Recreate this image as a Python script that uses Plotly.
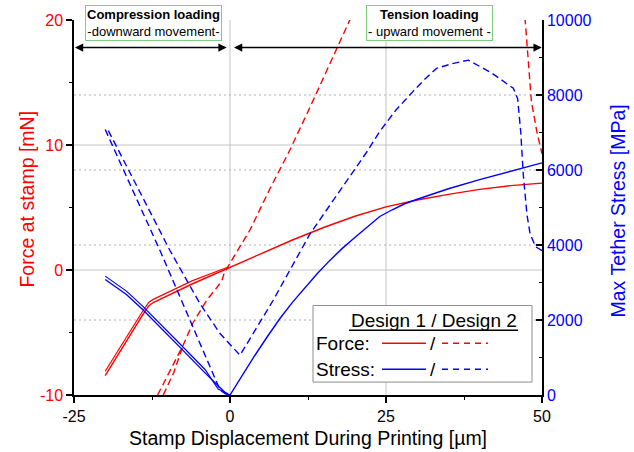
import plotly.graph_objects as go

# ---- Design 1: force at stamp [mN] (loading / unloading branches for x < 0)
d1_force_x = [-20, -17, -14, -13, -12.3, -6, -0.5, 0, 5, 10, 15, 20, 25, 30, 35, 40, 45, 50]
d1_force = [-8.45, -6.0, -3.6, -2.85, -2.6, -1.1, 0.1, 0.2, 1.25, 2.4, 3.4, 4.3, 5.05, 5.6, 6.05, 6.45, 6.75, 6.95]
d1_force_ret_x = [-20, -17, -14, -13, -12.3, -6, -0.5, 0]
d1_force_ret = [-8.1, -5.65, -3.3, -2.58, -2.35, -0.85, 0.2, 0.2]

# ---- Design 1: max tether stress [MPa]
d1_stress_x = [-20, -18, -16.6, -14, -12, -8, -4, -1.3, -0.5, 0, 2, 4, 6, 8, 10, 12, 14,
               16, 18, 20, 22, 24, 26, 28, 30, 35, 40, 45, 50]
d1_stress = [3080, 2850, 2680, 2280, 1950, 1270, 590, 130, 20, 0, 540, 1060, 1560, 2040, 2470,
             2870, 3240, 3590, 3910, 4200, 4480, 4760, 4940, 5100, 5220, 5500, 5745, 5970, 6190]
d1_stress_ret_x = [-20, -18, -16.6, -14, -12, -8, -4, -1.9, -0.3]
d1_stress_ret = [3170, 2940, 2770, 2370, 2040, 1360, 680, 160, 30]

# ---- Design 2: force at stamp [mN]
d2_force_x = [-11.6, -9.5, -7.5, -5.9, -3.7, -2.1, -1.3, -0.9, -0.3, 0, 3.2, 6.4, 9.6, 12.8,
              16, 19.2, 25, 32, 40, 45, 46.5, 47.3, 48.3, 49.2, 50]
d2_force = [-10, -8.0, -6.0, -4.2, -2.4, -1.4, -0.85, -0.2, 0.3, 0.45, 3.2, 6.5, 9.6, 13.0,
            16.5, 20, 25.5, 30, 31, 28, 24, 20, 13.5, 11, 9.3]
d2_force_ret_x = [-10.7, -9.0, -7.5]
d2_force_ret = [-10, -8.2, -6.0]

# ---- Design 2: max tether stress [MPa]
d2_stress_x = [-19.5, -14, -9.6, -4.8, -1.6, 1.6, 4, 6.9, 10, 12.8, 15, 17.6, 20, 22, 24,
               26.5, 29.3, 31.2, 33.1, 35.5, 38.2, 42, 45.4, 46.1, 46.6, 47.0, 47.6, 48.1, 49.0, 50]
d2_stress = [7050, 5270, 3846, 2432, 1640, 1060, 1720, 2520, 3450, 4290, 4820, 5440, 6030,
             6500, 7030, 7580, 8090, 8420, 8710, 8830, 8930, 8580, 8180, 7900, 7000, 5880,
             4800, 4290, 3950, 3850]
d2_stress_ret_x = [-20, -16, -11.2, -8, -4, -1.6, -0.8, -0.3]
d2_stress_ret = [7080, 5612, 3846, 2610, 1060, 133, 40, 20]

# ---- axes
x_range = [-25, 50]
force_range = [-10, 20]
stress_range = [0, 10000]
x_ticks = [-25, 0, 25, 50]
force_ticks = [-10, 0, 10, 20]
stress_ticks = [0, 2000, 4000, 6000, 8000, 10000]
x_grid = [0, 25]
force_grid = [0, 10]
stress_grid = [2000, 4000, 6000, 8000]
arrow_level = 17.8

RED = "#ff0000"
BLUE = "#0000ff"
FONT = "Arial, 'Liberation Sans', sans-serif"
DASH = "7px,4px"

fig = go.Figure()


def add_line(x, y, color, dash, width, axis):
    fig.add_trace(go.Scatter(x=x, y=y, mode="lines", yaxis=axis, showlegend=False,
                             hoverinfo="skip",
                             line=dict(color=color, width=width, dash=dash)))


add_line(d1_force_x, d1_force, RED, "solid", 1.4, "y")
add_line(d1_force_ret_x, d1_force_ret, RED, "solid", 1.2, "y")
add_line(d2_force_x, d2_force, RED, DASH, 1.4, "y")
add_line(d2_force_ret_x, d2_force_ret, RED, DASH, 1.4, "y")
add_line(d1_stress_x, d1_stress, BLUE, "solid", 1.4, "y2")
add_line(d1_stress_ret_x, d1_stress_ret, BLUE, "solid", 1.2, "y2")
add_line(d2_stress_x, d2_stress, BLUE, DASH, 1.4, "y2")
add_line(d2_stress_ret_x, d2_stress_ret, BLUE, DASH, 1.4, "y2")

shapes = []
# grid lines
for gx in x_grid:
    shapes.append(dict(type="line", xref="x", yref="paper", x0=gx, x1=gx, y0=0, y1=1,
                       layer="below", line=dict(color="#c4c4c4", width=1)))
for gy in force_grid:
    shapes.append(dict(type="line", xref="paper", yref="y", x0=0, x1=1, y0=gy, y1=gy,
                       layer="below", line=dict(color="#c4c4c4", width=1.2)))
for gy in stress_grid:
    shapes.append(dict(type="line", xref="paper", yref="y2", x0=0, x1=1, y0=gy, y1=gy,
                       layer="below", line=dict(color="#b0b0b0", width=1, dash="2px,3px")))


def px_x(p):
    return (p - 74) / 468.0


def px_y(p):
    return (395 - p) / 377.0


# legend box
shapes.append(dict(type="rect", xref="paper", yref="paper", x0=px_x(313), x1=px_x(532),
                   y0=px_y(382), y1=px_y(305), layer="above", fillcolor="white",
                   line=dict(color="#8c8c8c", width=1)))
shapes.append(dict(type="line", xref="paper", yref="paper", x0=px_x(349), x1=px_x(518),
                   y0=px_y(330), y1=px_y(330), layer="above",
                   line=dict(color="black", width=1.5)))
for ypix, col in [(343, RED), (369, BLUE)]:
    shapes.append(dict(type="line", xref="paper", yref="paper", x0=px_x(382), x1=px_x(426),
                       y0=px_y(ypix), y1=px_y(ypix), layer="above",
                       line=dict(color=col, width=1.5)))
    shapes.append(dict(type="line", xref="paper", yref="paper", x0=px_x(442), x1=px_x(488),
                       y0=px_y(ypix), y1=px_y(ypix), layer="above",
                       line=dict(color=col, width=1.5, dash="6px,5px")))

annotations = []
# loading direction arrows
for x_tip, x_tail in [(-24.85, -0.3), (49.95, 0.4)]:
    annotations.append(dict(x=x_tip, y=arrow_level, ax=x_tail, ay=arrow_level, xref="x",
                            yref="y", axref="x", ayref="y", text="", showarrow=True,
                            arrowhead=2, arrowside="end+start", arrowsize=1.1,
                            arrowwidth=1.5, arrowcolor="black", standoff=0, startstandoff=0))

box_font = dict(family=FONT, size=13, color="black")
annotations.append(dict(x=px_x(153), y=px_y(21.5), xref="paper", yref="paper",
                        text="<b>Compression loading</b><br>-downward movement-",
                        showarrow=False, font=box_font, bgcolor="white",
                        bordercolor="#7fcc7f", borderwidth=1, borderpad=1,
                        xanchor="center", yanchor="middle"))
annotations.append(dict(x=px_x(429), y=px_y(21.5), xref="paper", yref="paper",
                        text="<b>Tension loading</b><br>- upward movement -",
                        showarrow=False, font=box_font, bgcolor="white",
                        bordercolor="#7fcc7f", borderwidth=1, borderpad=1,
                        xanchor="center", yanchor="middle"))

leg_font = dict(family=FONT, size=19, color="black")
annotations.append(dict(x=px_x(433.5), y=px_y(320), xref="paper", yref="paper",
                        text="Design 1 / Design 2", showarrow=False, font=leg_font,
                        xanchor="center", yanchor="middle"))
annotations.append(dict(x=px_x(314), y=px_y(343), xref="paper", yref="paper", text="Force:",
                        showarrow=False, font=leg_font, xanchor="left", yanchor="middle"))
annotations.append(dict(x=px_x(314), y=px_y(369), xref="paper", yref="paper", text="Stress:",
                        showarrow=False, font=leg_font, xanchor="left", yanchor="middle"))
for ypix in (343, 369):
    annotations.append(dict(x=px_x(433), y=px_y(ypix), xref="paper", yref="paper", text="/",
                            showarrow=False, font=leg_font, xanchor="center",
                            yanchor="middle"))

# axis titles
title_size = 19.5
annotations.append(dict(x=px_x(27), y=px_y(198.5), xref="paper", yref="paper",
                        text="Force at stamp [mN]", textangle=-90, showarrow=False,
                        font=dict(family=FONT, size=title_size, color=RED),
                        xanchor="center", yanchor="middle"))
annotations.append(dict(x=px_x(618), y=px_y(210.5), xref="paper", yref="paper",
                        text="Max Tether Stress [MPa]", textangle=-90, showarrow=False,
                        font=dict(family=FONT, size=title_size, color=BLUE),
                        xanchor="center", yanchor="middle"))
annotations.append(dict(x=px_x(307.5), y=px_y(438), xref="paper", yref="paper",
                        text="Stamp Displacement During Printing [µm]", showarrow=False,
                        font=dict(family=FONT, size=title_size, color="black"),
                        xanchor="center", yanchor="middle"))


def labels(vals):
    return [str(v) for v in vals]


fig.update_layout(
    width=634, height=452,
    margin=dict(l=74, r=92, t=18, b=57),
    paper_bgcolor="white", plot_bgcolor="white",
    font=dict(family=FONT, size=16, color="black"),
    showlegend=False,
    xaxis=dict(range=x_range, tickvals=x_ticks, ticktext=labels(x_ticks), ticks="outside",
               ticklen=6, tickwidth=1.5,
               tickcolor="black", showline=True, linecolor="black", linewidth=1.5,
               showgrid=False, zeroline=False, tickfont=dict(size=16, color="black"),
               minor=dict(dtick=12.5, tick0=0, ticks="outside", ticklen=3,
                          tickcolor="black", tickwidth=1.2, showgrid=False)),
    yaxis=dict(range=force_range, tickvals=force_ticks, ticktext=labels(force_ticks),
               ticks="outside", ticklen=6,
               tickwidth=1.5, tickcolor="black", showline=True, linecolor="black",
               linewidth=1.5, showgrid=False, zeroline=False,
               tickfont=dict(size=16, color=RED),
               minor=dict(dtick=5, tick0=0, ticks="outside", ticklen=3, tickcolor="black",
                          tickwidth=1.2, showgrid=False)),
    yaxis2=dict(range=stress_range, tickvals=stress_ticks, ticktext=labels(stress_ticks),
                overlaying="y", side="right",
                ticks="inside", ticklen=6, tickwidth=1.5, tickcolor="black", showline=True,
                linecolor="black", linewidth=1.5, showgrid=False, zeroline=False,
                tickfont=dict(size=16, color=BLUE),
                minor=dict(dtick=1000, tick0=0, ticks="inside", ticklen=3,
                           tickcolor="black", tickwidth=1.2, showgrid=False)),
    shapes=shapes,
    annotations=annotations,
)

fig.write_html("out.html")
